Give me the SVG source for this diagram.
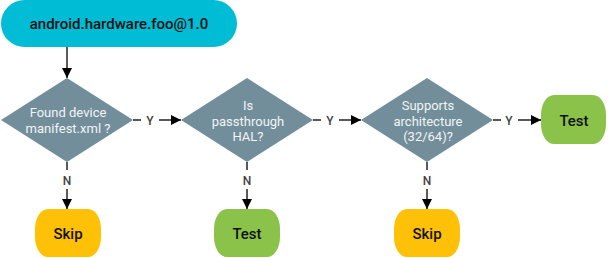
<svg xmlns="http://www.w3.org/2000/svg" width="608" height="258" viewBox="0 0 608 258">
<defs>
<style>
.dia{fill:#728E9B}
.skip{fill:#FFC107}
.test{fill:#8BC34A}
.dt{font-family:Roboto,"Liberation Sans",sans-serif;font-size:13px;fill:#F2F4F5;text-anchor:middle}
.bt{font-family:Roboto,"Liberation Sans",sans-serif;font-size:15px;font-weight:500;fill:#111111;text-anchor:middle}
.lb{font-family:Roboto,"Liberation Sans",sans-serif;font-size:12px;font-weight:500;fill:#424242;text-anchor:middle}
.ln{stroke:#222222;stroke-width:1.5;fill:none}
</style>
<marker id="ah" viewBox="0 0 10 10" refX="10" refY="5" markerWidth="10" markerHeight="10" markerUnits="userSpaceOnUse" orient="auto">
<path d="M0,0 L10,5 L0,10 Z" fill="#000000"/>
</marker>
</defs>
<g id="start">
<rect x="1" y="0" width="236" height="47" rx="23.5" ry="23.5" fill="#00BCD4"/>
<text x="119" y="29" class="bt">android.hardware.foo@1.0</text>
</g>
<g id="q1">
<polygon points="67,78 133,120 67,162 1,120" class="dia"/>
<text x="68" y="117" class="dt">Found device</text>
<text x="68" y="132.5" class="dt">manifest.xml ?</text>
</g>
<g id="q2">
<polygon points="247,78 313,120 247,162 181,120" class="dia"/>
<text x="248" y="110" class="dt">Is</text>
<text x="248" y="125.5" class="dt">passthrough</text>
<text x="248" y="141" class="dt">HAL?</text>
</g>
<g id="q3">
<polygon points="427,78 493,120 427,162 361,120" class="dia"/>
<text x="428" y="110" class="dt">Supports</text>
<text x="428" y="125.5" class="dt">architecture</text>
<text x="428" y="141" class="dt">(32/64)?</text>
</g>
<g id="test1">
<rect x="541" y="95" width="65" height="49" rx="13" ry="20" class="test"/>
<text x="574" y="126" class="bt">Test</text>
</g>
<g id="skip1">
<rect x="35" y="209" width="66" height="48" rx="13" ry="20" class="skip"/>
<text x="68" y="239" class="bt">Skip</text>
</g>
<g id="test2">
<rect x="214" y="209" width="66" height="48" rx="13" ry="20" class="test"/>
<text x="247" y="239" class="bt">Test</text>
</g>
<g id="skip2">
<rect x="394" y="209" width="66" height="48" rx="13" ry="20" class="skip"/>
<text x="427" y="239" class="bt">Skip</text>
</g>
<g id="connectors">
<line x1="67" y1="47" x2="67" y2="78" class="ln" marker-end="url(#ah)"/>
<line x1="133" y1="120" x2="141" y2="120" class="ln"/>
<text x="150" y="125" class="lb">Y</text>
<line x1="159" y1="120" x2="181" y2="120" class="ln" marker-end="url(#ah)"/>
<line x1="313" y1="120" x2="321" y2="120" class="ln"/>
<text x="330" y="125" class="lb">Y</text>
<line x1="339" y1="120" x2="361" y2="120" class="ln" marker-end="url(#ah)"/>
<line x1="493" y1="120" x2="501" y2="120" class="ln"/>
<text x="509" y="125" class="lb">Y</text>
<line x1="518" y1="120" x2="541" y2="120" class="ln" marker-end="url(#ah)"/>
<line x1="67" y1="162" x2="67" y2="170" class="ln"/>
<text x="67" y="185" class="lb">N</text>
<line x1="67" y1="189" x2="67" y2="209" class="ln" marker-end="url(#ah)"/>
<line x1="247" y1="162" x2="247" y2="170" class="ln"/>
<text x="247" y="185" class="lb">N</text>
<line x1="247" y1="189" x2="247" y2="209" class="ln" marker-end="url(#ah)"/>
<line x1="427" y1="162" x2="427" y2="170" class="ln"/>
<text x="427" y="185" class="lb">N</text>
<line x1="427" y1="189" x2="427" y2="209" class="ln" marker-end="url(#ah)"/>
</g>
</svg>
